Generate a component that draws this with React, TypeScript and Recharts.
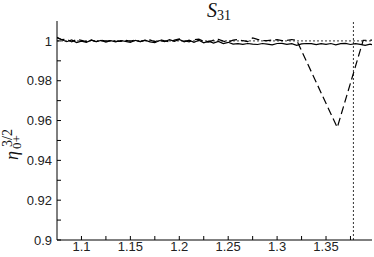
import { LineChart, Line, XAxis, YAxis, ReferenceLine } from "recharts";

// x positions of the solid curve
const solidX = [
  1.075, 1.08, 1.085, 1.09, 1.095, 1.1, 1.105, 1.11, 1.115, 1.12, 1.125, 1.13,
  1.135, 1.14, 1.145, 1.15, 1.155, 1.16, 1.165, 1.17, 1.175, 1.18, 1.185, 1.19,
  1.195, 1.2, 1.205, 1.21, 1.215, 1.22, 1.225, 1.23, 1.235, 1.24, 1.245, 1.25,
  1.255, 1.26, 1.265, 1.27, 1.275, 1.28, 1.285, 1.29, 1.295, 1.3, 1.305, 1.31,
  1.315, 1.32, 1.325, 1.33, 1.335, 1.34, 1.345, 1.35, 1.355, 1.36, 1.365, 1.37,
  1.375, 1.38, 1.385, 1.39, 1.395, 1.3975,
];
const solidY = [
  1.0015, 1.0006, 0.9996, 1.0005, 0.9992, 0.9999, 0.9993, 1.0004, 0.9996, 1.0003, 0.9994, 1.0001,
  0.9995, 1.0002, 0.9998, 0.9993, 1.0003, 0.9997, 1.0004, 0.9995, 0.9991, 1.0002, 0.9996, 1.0006,
  0.9998, 1.0007, 0.9995, 1.0004, 0.9993, 1.0003, 0.999, 0.9999, 0.9989, 0.9997, 0.9987, 0.9993,
  0.9984, 0.9986, 0.9983, 0.9987, 0.9984, 0.9982, 0.9987, 0.9984, 0.998, 0.9987, 0.9988, 0.9983,
  0.9986, 0.9978, 0.9985, 0.9987, 0.9986, 0.9981, 0.9986, 0.9983, 0.9987, 0.998, 0.9986, 0.9988,
  0.9982, 0.9986, 0.9983, 0.9978, 0.9984, 0.9981,
];

// dashed curve
const dashX = [
  1.075, 1.08, 1.085, 1.09, 1.095, 1.1, 1.105, 1.11, 1.115, 1.12, 1.125, 1.13,
  1.135, 1.14, 1.145, 1.15, 1.155, 1.16, 1.165, 1.17, 1.175, 1.18, 1.185, 1.19,
  1.195, 1.2, 1.205, 1.21, 1.215, 1.22, 1.225, 1.23, 1.235, 1.24, 1.245, 1.25,
  1.255, 1.26, 1.265, 1.27, 1.275, 1.28, 1.285, 1.29, 1.295, 1.3, 1.305, 1.31,
  1.315, 1.32, 1.3615, 1.388, 1.3975,
];
const dashY = [
  1.0018, 1.0006, 1.0009, 0.9995, 1.0007, 1.0003, 0.9997, 1.0005, 0.9997, 1.0004, 0.9999, 1.0002,
  0.9999, 0.9997, 1.0003, 0.9999, 1.0004, 0.9997, 1.0003, 1.0005, 0.9996, 1.0006, 1.0001, 0.9994,
  1.0004, 1.001, 1.0001, 0.9995, 1.0006, 1.0009, 0.9997, 0.9994, 1.0004, 1.0008, 0.9999, 0.9994,
  1.0004, 1.0007, 1.0001, 0.9997, 1.0015, 1.0008, 1.0002, 1.0001, 1.0005, 1.0006, 1.0001, 1.0003,
  1.0007, 1.0003, 0.9565, 1.0003, 1.0004,
];

const thresholdX = 1.378;
const xTicks = [1.1, 1.125, 1.15, 1.175, 1.2, 1.225, 1.25, 1.275, 1.3, 1.325, 1.35, 1.375];
const xLabels = [1.1, 1.15, 1.2, 1.25, 1.3, 1.35];
const yTicks = [0.9, 0.91, 0.92, 0.93, 0.94, 0.95, 0.96, 0.97, 0.98, 0.99, 1.0];
const yLabels = [0.9, 0.92, 0.94, 0.96, 0.98, 1.0];

const solidData = solidX.map((x, i) => ({ x, y: solidY[i] }));
const dashData = dashX.map((x, i) => ({ x, y: dashY[i] }));

const hasLabel = (list: number[], v: number) => list.some((l) => Math.abs(l - v) < 1e-6);
const fmt = (v: number) => String(Number(v.toFixed(3)));

const tickFont = { fontFamily: "Liberation Sans, Arial, sans-serif", fontSize: 13, fill: "#222" };
const serif = "Liberation Serif, serif";

export default function App() {
  return (
    <div style={{ position: "absolute", left: 0, top: 0, width: 374, height: 257, background: "#fff" }}>
      <LineChart width={374} height={257} data={solidData} margin={{ top: 21, right: 2, bottom: 0, left: 0 }}>
        <XAxis
          xAxisId="b"
          dataKey="x"
          type="number"
          domain={[1.075, 1.397]}
          allowDataOverflow
          ticks={xTicks}
          height={17}
          tickSize={-4}
          tickMargin={6}
          stroke="#000"
          tick={tickFont}
          tickFormatter={(v: number) => (hasLabel(xLabels, v) ? fmt(v) : "")}
        />
        <XAxis
          xAxisId="t"
          orientation="top"
          dataKey="x"
          type="number"
          domain={[1.075, 1.397]}
          allowDataOverflow
          ticks={xTicks}
          height={0}
          tickSize={-4}
          stroke="#000"
          tickFormatter={() => ""}
        />
        <YAxis
          yAxisId="l"
          type="number"
          domain={[0.9, 1.01]}
          allowDataOverflow
          ticks={yTicks}
          width={57}
          tickSize={-4}
          tickMargin={9}
          stroke="#000"
          tick={tickFont}
          tickFormatter={(v: number) => (hasLabel(yLabels, v) ? fmt(v) : "")}
        />
        <YAxis
          yAxisId="r"
          orientation="right"
          type="number"
          domain={[0.9, 1.01]}
          allowDataOverflow
          ticks={yTicks}
          width={0}
          tickSize={-4}
          stroke="#000"
          tickFormatter={() => ""}
        />
        <ReferenceLine xAxisId="b" yAxisId="l" y={1} stroke="#333" strokeDasharray="2 2" />
        <ReferenceLine xAxisId="b" yAxisId="l" x={thresholdX} stroke="#333" strokeDasharray="2 2" />
        <Line
          xAxisId="b"
          yAxisId="l"
          data={solidData}
          dataKey="y"
          type="linear"
          stroke="#000"
          strokeWidth={1.2}
          dot={false}
          isAnimationActive={false}
        />
        <Line
          xAxisId="b"
          yAxisId="l"
          data={dashData}
          dataKey="y"
          type="linear"
          stroke="#000"
          strokeWidth={1.2}
          strokeDasharray="8 4"
          dot={false}
          isAnimationActive={false}
        />
      </LineChart>
      <svg width={374} height={257} style={{ position: "absolute", left: 0, top: 0, pointerEvents: "none" }}>
        <text x={207} y={17} fontFamily={serif} fontStyle="italic" fontSize={20} fill="#111">
          S<tspan fontStyle="normal" fontSize={14} dy={3}>31</tspan>
        </text>
        <text transform="translate(18,160) rotate(-90)" fontFamily={serif} fontStyle="italic" fontSize={18} fill="#111">
          η
        </text>
        <text transform="translate(12,147) rotate(-90)" fontFamily={serif} fontSize={14} fill="#111">
          3/2
        </text>
        <text transform="translate(21,149) rotate(-90)" fontFamily={serif} fontSize={13} fill="#111">
          0+
        </text>
      </svg>
    </div>
  );
}
